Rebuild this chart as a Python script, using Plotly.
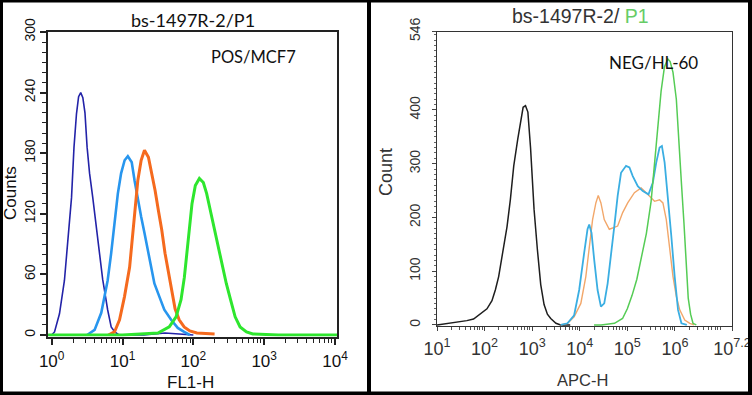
import plotly.graph_objects as go

W, H = 752, 395

# ---------------- data (left panel: FL1-H, log10 exponents / counts) ----------------
left_ticks = [1, 10, 100, 1000, 10000]
left_ticktext = ["10<sup>0</sup>", "10<sup>1</sup>", "10<sup>2</sup>", "10<sup>3</sup>", "10<sup>4</sup>"]
left_yticks = [0, 60, 120, 180, 240, 300]

navy_exp = [-0.05, 0.0, 0.04, 0.11, 0.18, 0.23, 0.28, 0.315, 0.35, 0.38, 0.41, 0.44, 0.47, 0.50,
            0.535, 0.58, 0.63, 0.68, 0.72, 0.76, 0.79, 0.84, 0.89, 0.95, 1.3, 1.6, 1.9, 2.0]
navy_cnt = [0, 0, 3, 21, 54, 94, 136, 186, 219, 236, 240, 235, 220, 186,
            160, 136, 107, 77, 55, 38, 25, 8, 3, 0, 0, 2, 0, 0]

lblue_exp = [0.5, 0.606, 0.70, 0.79, 0.84, 0.887, 0.934, 0.98, 1.03, 1.075, 1.13, 1.17, 1.216,
             1.263, 1.31, 1.357, 1.404, 1.45, 1.52, 1.59, 1.686, 1.78, 1.87, 1.95]
lblue_cnt = [0, 5, 22, 54, 81, 111, 140, 160, 173, 177, 171, 153, 133,
             117, 101, 84, 64, 51, 38, 25, 15, 7, 3, 0]

orange_exp = [0.8, 0.887, 0.958, 1.028, 1.10, 1.146, 1.18, 1.216, 1.263, 1.31, 1.366, 1.413, 1.46,
              1.507, 1.554, 1.60, 1.648, 1.695, 1.742, 1.80, 1.87, 1.95, 2.05, 2.3]
orange_cnt = [0, 3, 15, 38, 67, 101, 126, 153, 173, 183, 176, 160, 143,
              123, 104, 81, 61, 42, 26, 15, 8, 4, 2, 1]

green_exp = [-0.05, 1.0, 1.5, 1.66, 1.756, 1.826, 1.873, 1.906, 1.944, 1.981, 2.028, 2.085, 2.141,
             2.188, 2.25, 2.30, 2.355, 2.405, 2.465, 2.525, 2.59, 2.66, 2.75, 2.84, 3.2, 4.03]
green_cnt = [0, 0, 2, 8, 18, 35, 57, 81, 107, 130, 148, 155, 151,
             140, 120, 104, 84, 67, 51, 35, 18, 8, 3, 1, 0, 0]

# ---------------- data (right panel: APC-H, log10 exponents / counts) ----------------
right_ticks = [10, 100, 1000, 1e4, 1e5, 1e6, 10 ** 7.2]
right_ticktext = ["10<sup>1</sup>", "10<sup>2</sup>", "10<sup>3</sup>", "10<sup>4</sup>",
                  "10<sup>5</sup>", "10<sup>6</sup>", "10<sup>7.2</sup>"]
right_yticks = [0, 100, 200, 300, 400, 546]

black_exp = [1.0, 1.275, 1.486, 1.627, 1.768, 1.909, 2.05, 2.155, 2.226, 2.296, 2.345, 2.40, 2.472,
             2.543, 2.613, 2.698, 2.768, 2.81, 2.86, 2.91, 2.966, 3.04, 3.11, 3.18, 3.25, 3.32,
             3.39, 3.5, 3.6, 3.8]
black_cnt = [0, 3, 6, 8, 11, 20, 30, 45, 65, 90, 115, 140, 183,
             234, 296, 346, 383, 405, 408, 396, 330, 215, 140, 75, 38, 20,
             12, 3, 0, 0]

peach_exp = [3.6, 3.742, 3.882, 4.023, 4.128, 4.199, 4.27, 4.339, 4.389, 4.445, 4.515, 4.621, 4.692,
             4.797, 4.902, 5.008, 5.149, 5.29, 5.396, 5.466, 5.572, 5.678, 5.748, 5.819, 5.889,
             5.96, 6.03, 6.101, 6.207, 6.313, 6.4]
peach_cnt = [0, 3, 15, 40, 90, 140, 196, 227, 241, 227, 196, 178, 181,
             184, 209, 227, 246, 255, 246, 240, 230, 233, 227, 196, 146,
             90, 53, 28, 9, 3, 0]

cyan_exp = [3.6, 3.742, 3.882, 3.988, 4.093, 4.163, 4.199, 4.248, 4.304, 4.375, 4.445, 4.515, 4.586,
            4.656, 4.727, 4.797, 4.868, 4.973, 5.044, 5.114, 5.22, 5.325, 5.445, 5.537, 5.608,
            5.678, 5.727, 5.784, 5.854, 5.925, 5.995, 6.066, 6.137, 6.25]
cyan_cnt = [0, 3, 18, 65, 134, 178, 187, 171, 121, 65, 34, 40, 77,
            127, 184, 240, 283, 296, 293, 277, 258, 249, 243, 265, 302,
            330, 333, 302, 240, 165, 90, 28, 3, 0]

lgreen_exp = [4.3, 4.45, 4.73, 4.9, 5.0, 5.1, 5.2, 5.3, 5.4, 5.5, 5.57, 5.64, 5.71, 5.78, 5.85,
              5.9, 5.96, 6.03, 6.1, 6.14, 6.19, 6.24, 6.28, 6.33, 6.38, 6.45]
lgreen_cnt = [0, 0, 3, 12, 30, 55, 85, 125, 170, 230, 300, 370, 435, 480, 495,
              490, 470, 420, 330, 260, 190, 100, 50, 20, 3, 0]


def fx(p):
    return p / W


def fy(p):
    return 1 - p / H


fig = go.Figure()


def add(exps, cnts, color, width, xa, ya):
    fig.add_trace(go.Scatter(x=[10 ** e for e in exps], y=cnts, mode="lines",
                             line=dict(color=color, width=width),
                             xaxis=xa, yaxis=ya, showlegend=False, hoverinfo="skip"))


add(navy_exp, navy_cnt, "#2323a8", 1.6, "x", "y")
add(lblue_exp, lblue_cnt, "#2896ee", 2.6, "x", "y")
add(orange_exp, orange_cnt, "#f56a1e", 3.0, "x", "y")
add(green_exp, green_cnt, "#2ee62e", 3.0, "x", "y")

add(black_exp, black_cnt, "#1e1e1e", 1.5, "x2", "y2")
add(peach_exp, peach_cnt, "#f2a76a", 1.4, "x2", "y2")
add(cyan_exp, cyan_cnt, "#3aaee2", 1.8, "x2", "y2")
add(lgreen_exp, lgreen_cnt, "#55cc55", 1.5, "x2", "y2")

left_minor_x = [m * 10 ** k for k in range(0, 4) for m in range(2, 10)]
right_minor_x = [m * 10 ** k for k in range(1, 7) for m in range(2, 10)]
right_minor_x = [v for v in right_minor_x if v < 10 ** 7.2]

tickfont_l = dict(family="Liberation Sans", size=17, color="#111")
tickfont_r = dict(family="Liberation Sans", size=18, color="#333")

fig.update_layout(
    width=W, height=H, margin=dict(l=0, r=0, t=0, b=0),
    paper_bgcolor="white", plot_bgcolor="white",
    font=dict(family="Liberation Sans"),
    xaxis=dict(type="log", domain=[fx(48), fx(337)], range=[-0.052, 4.028], anchor="y",
               tickvals=left_ticks, ticktext=left_ticktext, tickfont=tickfont_l,
               ticks="outside", ticklen=7, tickwidth=1.5, tickcolor="#222", ticklabelstandoff=1,
               minor=dict(tickvals=left_minor_x, ticks="outside", ticklen=5, tickwidth=1.3, tickcolor="#222"),
               showline=True, linecolor="#222", linewidth=1.5, mirror=True,
               showgrid=False, zeroline=False, automargin=False),
    yaxis=dict(domain=[fy(336.5), fy(32)], range=[-1.5, 300], anchor="x",
               tickvals=left_yticks, tickangle=-90, tickfont=dict(family="Liberation Sans", size=14, color="#111"),
               ticks="outside", ticklen=6, tickwidth=1.5, tickcolor="#222",
               minor=dict(dtick=10, tick0=0, ticks="outside", ticklen=4, tickwidth=1.3, tickcolor="#222"),
               showline=True, linecolor="#222", linewidth=1.5, mirror=True,
               showgrid=False, zeroline=False, automargin=False),
    xaxis2=dict(type="log", domain=[fx(437), fx(732)], range=[1, 7.2], anchor="y2",
                tickvals=right_ticks, ticktext=right_ticktext, tickfont=tickfont_r,
                ticks="outside", ticklen=4, tickwidth=1, tickcolor="#444", ticklabelstandoff=2,
                minor=dict(tickvals=right_minor_x, ticks="outside", ticklen=2.5, tickwidth=1, tickcolor="#555"),
                showline=True, linecolor="#333", linewidth=1.3, mirror=True,
                showgrid=False, zeroline=False, automargin=False),
    yaxis2=dict(domain=[fy(326), fy(31.5)], range=[-2, 546], anchor="x2",
                tickvals=right_yticks, tickangle=-90, tickfont=dict(family="Liberation Sans", size=14, color="#333"),
                ticks="outside", ticklen=4, tickwidth=1, tickcolor="#444", ticklabelstandoff=6,
                minor=dict(dtick=10, tick0=0, ticks="outside", ticklen=2, tickwidth=1, tickcolor="#666"),
                showline=True, linecolor="#333", linewidth=1.3, mirror=True,
                showgrid=False, zeroline=False, automargin=False),
)

ann = [
    dict(text="bs-1497R-2/P1", x=fx(193), y=fy(20), font=dict(family="Lato", size=18, color="#111")),
    dict(text="POS/MCF7", x=fx(253), y=fy(57), font=dict(family="Lato", size=16.5, color="#111")),
    dict(text="Counts", x=fx(11), y=fy(193), textangle=-90, font=dict(family="Liberation Sans", size=17, color="#111")),
    dict(text="FL1-H", x=fx(190), y=fy(382), font=dict(family="Liberation Sans", size=17, color="#111")),
    dict(text="bs-1497R-2/ <span style='color:#66cc66'>P1</span>", x=fx(580), y=fy(16),
         font=dict(family="Liberation Sans", size=19.5, color="#333")),
    dict(text="NEG/HL-60", x=fx(653), y=fy(63), font=dict(family="Lato", size=17, color="#111")),
    dict(text="Count", x=fx(386), y=fy(172), textangle=-90, font=dict(family="Liberation Sans", size=18, color="#333")),
    dict(text="APC-H", x=fx(582), y=fy(380), font=dict(family="Liberation Sans", size=16.5, color="#333")),
]
for a in ann:
    a.update(xref="paper", yref="paper", xanchor="center", yanchor="middle", showarrow=False)
fig.update_layout(annotations=ann)

# outer black frame and divider
bars = [(0, 0, 3, H), (0, 0, W, 2.5), (0, H - 3.5, W, H), (W - 4, 0, W, H), (367, 0, 371, H)]
fig.update_layout(shapes=[dict(type="rect", xref="paper", yref="paper",
                               x0=fx(a), x1=fx(c), y0=fy(d), y1=fy(b),
                               fillcolor="black", line=dict(width=0), layer="above")
                          for (a, b, c, d) in bars])

fig.write_html("out.html", config={"displayModeBar": False},
               post_script="document.body.style.margin='0';document.body.style.overflow='hidden';")
